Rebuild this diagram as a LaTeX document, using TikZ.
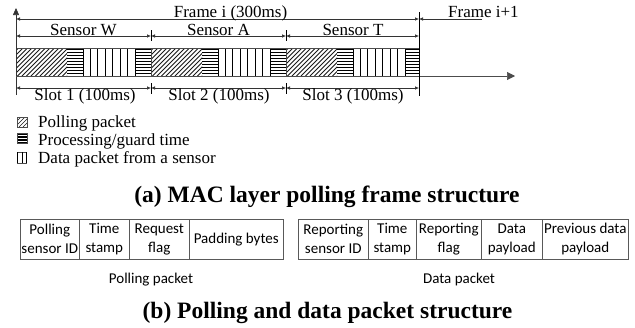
\documentclass[tikz,border=0pt]{standalone}
\usepackage{fontspec}
\setmainfont{Liberation Serif}[BoldFont={* Bold}]
\newfontfamily\calib{Carlito}
\usetikzlibrary{arrows.meta}
\tikzset{
  dimline/.style={draw=black!80, line width=0.6pt, {Latex[length=4pt,width=3.5pt]}-{Latex[length=4pt,width=3.5pt]}},
  tickline/.style={draw=black, line width=0.7pt},
  lbl/.style={font=\fontsize{17}{20}\selectfont, inner sep=0pt, anchor=base},
  captext/.style={font=\fontsize{23.5}{26}\selectfont\bfseries, inner sep=0pt, anchor=base},
  cell/.style={draw=black!65, line width=0.6pt, minimum height=40pt, inner sep=0pt, anchor=north west,
    font=\calib\fontsize{15}{19}\selectfont, align=center},
  smalltext/.style={font=\calib\fontsize{15}{19}\selectfont, inner sep=0pt, anchor=base},
  hatchline/.style={draw=black!90, line width=0.75pt},
  hl/.style={draw=black, line width=1.4pt},
  vl/.style={draw=black, line width=0.9pt},
  border/.style={draw=black!70, line width=0.6pt},
}
\begin{document}
\begin{tikzpicture}[x=1pt,y=-1pt]
\useasboundingbox (0,0) rectangle (635,327);

% ---------- bar ----------
\foreach \o/\w in {16/135,151/135,286/133}{
  \begin{scope}
    \clip (\o,48) rectangle (\o+51,76);
    \foreach \d in {-30,-25.5,...,55}{
      \draw[hatchline] (\o+\d,76) -- (\o+\d+28,48);
    }
  \end{scope}
  \foreach \k in {0,...,8}{
    \draw[hl] (\o+51,49.6+3*\k) -- (\o+67,49.6+3*\k);
    \draw[hl] (\o+119,49.6+3*\k) -- (\o+\w,49.6+3*\k);
  }
  \foreach \k in {0,...,7}{
    \draw[vl] (\o+67+\k*52/7,48) -- (\o+67+\k*52/7,76);
  }
}
\draw[border] (16,48) rectangle (419,76);
\draw[border] (151,48) -- (151,76) (286,48) -- (286,76);

% ---------- axes ----------
\coordinate (ax0) at (16,95);
\coordinate (axtop) at (16,8);
\coordinate (hx0) at (16,76);
\coordinate (hx1) at (515,76);
\draw[draw=black!80, line width=0.6pt, -{Triangle[length=7pt,width=6pt]}] (ax0) -- (axtop);
\draw[draw=black!70, line width=0.6pt, -{Triangle[length=8pt,width=8pt]}] (hx0) -- (hx1);
\coordinate (rt) at (419,12);
\coordinate (rb) at (419,96);
\draw[tickline] (rt) -- (rb);

% ---------- dimension lines ----------
\coordinate (f0) at (16,19);
\coordinate (f1) at (419,19);
\coordinate (f2) at (482,19);
\draw[dimline] (f0) -- (f1);
\draw[draw=black!80, line width=0.6pt, {Latex[length=4pt,width=3.5pt]}-] (f1) -- (f2);

\foreach \y/\n in {36/s,88/t}{
  \coordinate (\n0) at (16,\y);
  \coordinate (\n1) at (151,\y);
  \coordinate (\n2) at (286,\y);
  \coordinate (\n3) at (419,\y);
  \draw[dimline] (\n0) -- (\n1);
  \draw[dimline] (\n1) -- (\n2);
  \draw[dimline] (\n2) -- (\n3);
}
\foreach \x in {151,286}{
  \coordinate (ua\x) at (\x,30);
  \coordinate (ub\x) at (\x,41);
  \coordinate (la\x) at (\x,83);
  \coordinate (lb\x) at (\x,94);
  \draw[tickline] (ua\x) -- (ub\x);
  \draw[tickline] (la\x) -- (lb\x);
}

% ---------- labels ----------
\node[lbl] (frame) at (230.5,17.8) {Frame i (300ms)};
\node[lbl, anchor=base west] (frame2) at (448,17.8) {Frame i+1};
\node[lbl] (sw) at (83.5,35) {Sensor W};
\node[lbl] (sa) at (218.5,35) {Sensor A};
\node[lbl] (st) at (353,35) {Sensor T};
\node[lbl] (sl1) at (85,100) {Slot 1 (100ms)};
\node[lbl] (sl2) at (219,100) {Slot 2 (100ms)};
\node[lbl] (sl3) at (353,100) {Slot 3 (100ms)};

% ---------- legend ----------
\begin{scope}
  \clip (17,117) rectangle (27,127);
  \foreach \d in {-10,-6,...,10}{ \draw[hatchline, line width=0.6pt] (17+\d,127) -- (27+\d,117); }
\end{scope}
\draw[border] (17,117) rectangle (27,127);
\foreach \k in {0,...,3}{ \draw[hl] (17,134.2+2.9*\k) -- (27,134.2+2.9*\k); }
\draw[border] (17,133) rectangle (27,143);
\draw[border] (17,152) -- (27,152) (17,163) -- (27,163);
\foreach \x in {17.3,22,26.7}{ \draw[vl] (\x,152) -- (\x,163); }
\node[lbl, anchor=base west] (lg1) at (38,127) {Polling packet};
\node[lbl, anchor=base west] (lg2) at (38,145) {Processing/guard time};
\node[lbl, anchor=base west] (lg3) at (38,163.5) {Data packet from a sensor};

\node[captext] (capa) at (327,202) {(a) MAC layer polling frame structure};

% ---------- packet structures ----------
\node[cell, minimum width=59pt] (p1) at (20,219) {Polling\\sensor ID};
\node[cell, minimum width=50pt] (p2) at (79,219) {Time\\stamp};
\node[cell, minimum width=60pt] (p3) at (129,219) {Request\\flag};
\node[cell, minimum width=94pt] (p4) at (189,219) {Padding bytes};
\node[smalltext] (pl) at (151,283) {Polling packet};

\node[cell, minimum width=70pt] (d1) at (298,219) {Reporting\\sensor ID};
\node[cell, minimum width=48pt] (d2) at (368,219) {Time\\stamp};
\node[cell, minimum width=65pt] (d3) at (416,219) {Reporting\\flag};
\node[cell, minimum width=61pt] (d4) at (481,219) {Data\\payload};
\node[cell, minimum width=86pt] (d5) at (542,219) {Previous data\\payload};
\node[smalltext] (dl) at (459,283) {Data packet};

\node[captext] (capb) at (327.5,318) {(b) Polling and data packet structure};
\end{tikzpicture}
\end{document}
